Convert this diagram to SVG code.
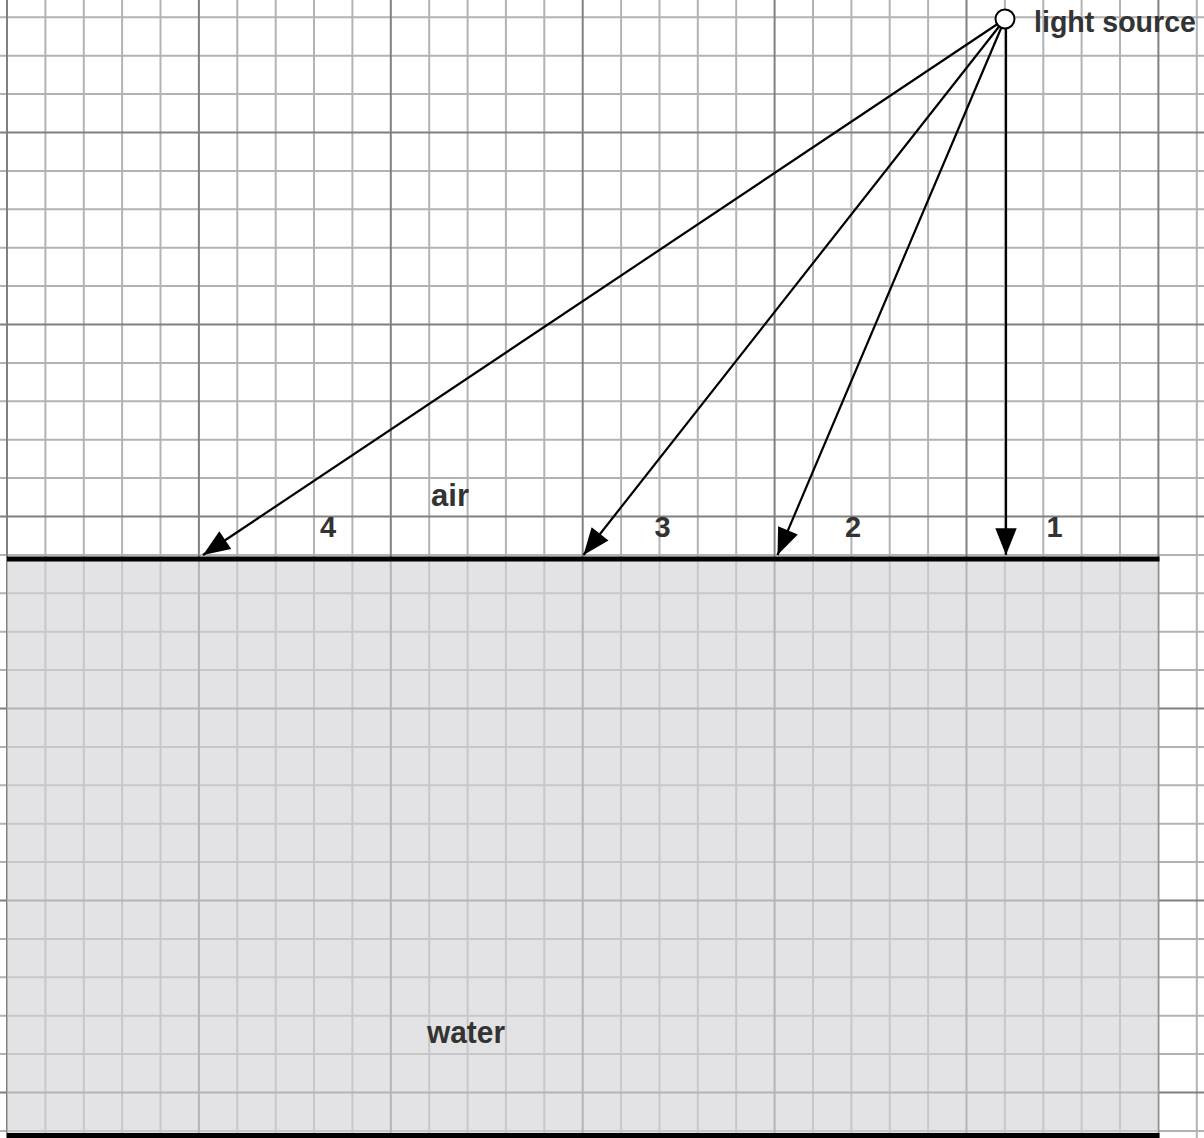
<svg xmlns="http://www.w3.org/2000/svg" width="1204" height="1138" viewBox="0 0 1204 1138">
  <style>
    .minor { stroke: #b3b3b3; stroke-width: 2; fill: none; }
    .major { stroke: #808080; stroke-width: 2; fill: none; }
    .ray { stroke: #000; stroke-width: 2.2; fill: none; marker-end: url(#arrow); }
    .lbl { font-family: "Comic Sans MS", "Liberation Sans", "DejaVu Sans", sans-serif; font-weight: bold; fill: #333; }
    .word { font-size: 31px; }
    .src { font-size: 29px; }
    .num { font-size: 29px; text-anchor: middle; }
    .edge { stroke: #000; stroke-width: 5; }
  </style>
  <defs>
    <marker id="arrow" markerUnits="userSpaceOnUse" markerWidth="30" markerHeight="30" viewBox="-26 -11 28 22" refX="0" refY="0" orient="auto">
      <path d="M0,0 L-25,-10 L-25,10 Z" fill="#000"/>
    </marker>
  </defs>
  <rect x="0" y="0" width="1204" height="1138" fill="#fff"/>
  <g id="grid">
    <path class="minor" d="M45.4,0V1138 M83.8,0V1138 M122.1,0V1138 M160.5,0V1138 M237.3,0V1138 M275.7,0V1138 M314,0V1138 M352.4,0V1138 M429.2,0V1138 M467.6,0V1138 M505.9,0V1138 M544.3,0V1138 M621.1,0V1138 M659.5,0V1138 M697.8,0V1138 M736.2,0V1138 M813,0V1138 M851.4,0V1138 M889.7,0V1138 M928.1,0V1138 M1004.9,0V1138 M1043.3,0V1138 M1081.6,0V1138 M1120,0V1138 M1196.8,0V1138
      M0,17.3H1204 M0,55.7H1204 M0,94.1H1204 M0,170.9H1204 M0,209.3H1204 M0,247.7H1204 M0,286.1H1204 M0,362.9H1204 M0,401.3H1204 M0,439.7H1204 M0,478.1H1204 M0,554.9H1204 M0,593.3H1204 M0,631.7H1204 M0,670.1H1204 M0,746.9H1204 M0,785.3H1204 M0,823.7H1204 M0,862.1H1204 M0,938.9H1204 M0,977.3H1204 M0,1015.7H1204 M0,1054.1H1204 M0,1130.9H1204"/>
    <path class="major" d="M7,0V1138 M198.9,0V1138 M390.8,0V1138 M582.7,0V1138 M774.6,0V1138 M966.5,0V1138 M1158.4,0V1138
      M0,132.5H1204 M0,324.5H1204 M0,516.5H1204 M0,708.5H1204 M0,900.5H1204 M0,1092.5H1204"/>
  </g>
  <g id="water">
    <rect x="7" y="559" width="1151.4" height="576" fill="#d2d2d6" fill-opacity="0.63"/>
    <line class="edge" x1="7" y1="559" x2="1159.5" y2="559"/>
    <line class="edge" x1="7" y1="1135.5" x2="1159.5" y2="1135.5"/>
  </g>
  <g id="connectors">
    <line id="ray1" class="ray" x1="1006" y1="19" x2="1006" y2="555"/>
    <line id="ray2" class="ray" x1="1005" y1="19" x2="777.5" y2="555"/>
    <line id="ray3" class="ray" x1="1005" y1="19" x2="583.5" y2="555"/>
    <line id="ray4" class="ray" x1="1005" y1="19" x2="203" y2="555"/>
  </g>
  <g id="light-source">
    <circle cx="1005" cy="19" r="9.5" fill="#fff" stroke="#000" stroke-width="2"/>
    <text class="lbl src" x="1034" y="32" textLength="162" lengthAdjust="spacingAndGlyphs">light source</text>
  </g>
  <g id="label-air"><text class="lbl word" x="431" y="506" textLength="38" lengthAdjust="spacingAndGlyphs">air</text></g>
  <g id="label-water"><text class="lbl word" x="427" y="1043" textLength="78" lengthAdjust="spacingAndGlyphs">water</text></g>
  <g id="label-1"><text class="lbl num" x="1054.5" y="537">1</text></g>
  <g id="label-2"><text class="lbl num" x="853" y="537">2</text></g>
  <g id="label-3"><text class="lbl num" x="662.5" y="537">3</text></g>
  <g id="label-4"><text class="lbl num" x="328" y="537">4</text></g>
</svg>
